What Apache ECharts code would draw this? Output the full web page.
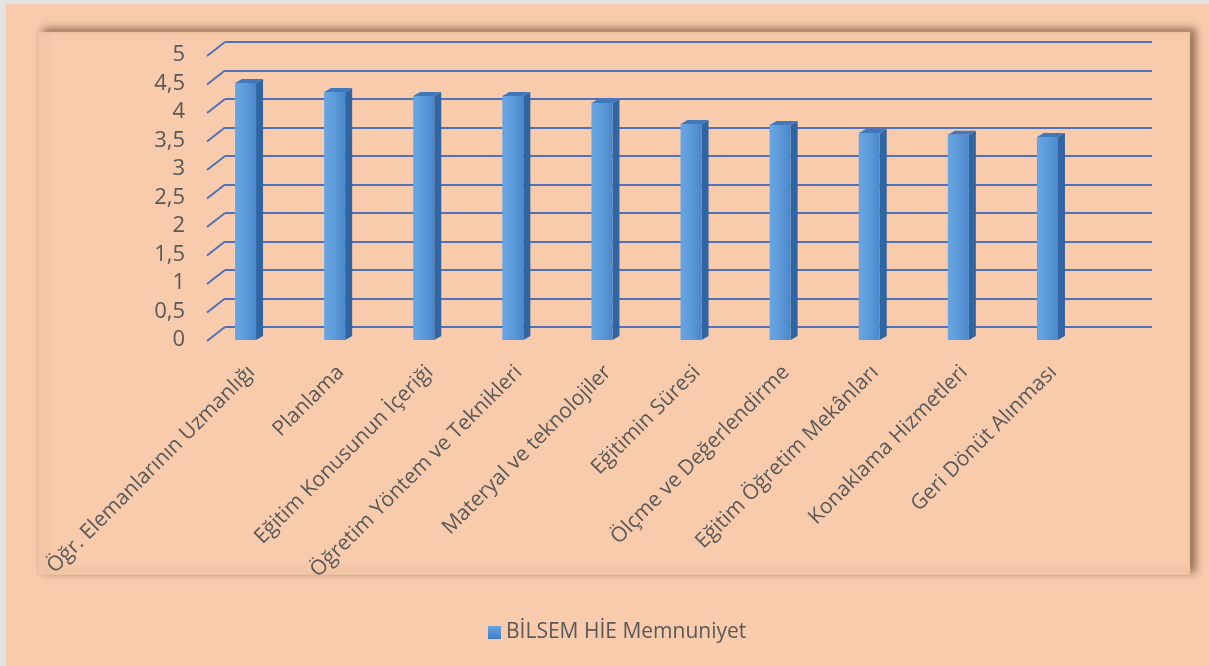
<!DOCTYPE html>
<html>
<head>
<meta charset="utf-8">
<script src="https://cdn.jsdelivr.net/npm/echarts@6/dist/echarts.min.js"></script>
<style>
  html, body { margin: 0; padding: 0; background: #f8cbad; }
  #chart { width: 1209px; height: 666px; }
</style>
</head>
<body>
<div id="chart"></div>
<script>
const categories = [
  "Öğr. Elemanlarının Uzmanlığı",
  "Planlama",
  "Eğitim Konusunun İçeriği",
  "Öğretim Yöntem ve Teknikleri",
  "Materyal ve teknolojiler",
  "Eğitimin Süresi",
  "Ölçme ve Değerlendirme",
  "Eğitim Öğretim Mekânları",
  "Konaklama Hizmetleri",
  "Geri Dönüt Alınması"
];
const seriesName = "BİLSEM HİE Memnuniyet";
const values = [4.51, 4.35, 4.28, 4.28, 4.16, 3.79, 3.77, 3.63, 3.6, 3.56];
const yTicks = [0, 0.5, 1, 1.5, 2, 2.5, 3, 3.5, 4, 4.5, 5];

const font = "Open Sans";
const textColor = "#595959";
const gridColor = "#4f72b8";

// 3d-ish column: front face + right side + top
function renderBar(params, api) {
  const top = api.coord([api.value(0), api.value(1)]);
  const base = api.coord([api.value(0), 0]);
  const w = 21, dx = 7, dy = 4;
  const x0 = top[0] - w / 2;
  return {
    type: "group",
    children: [
      {
        type: "polygon",
        shape: { points: [[x0 + w, top[1]], [x0 + w + dx, top[1] - dy], [x0 + w + dx, base[1] - dy], [x0 + w, base[1]]] },
        style: { fill: "#2f65a3" }
      },
      {
        type: "polygon",
        shape: { points: [[x0, top[1]], [x0 + dx, top[1] - dy], [x0 + w + dx, top[1] - dy], [x0 + w, top[1]]] },
        style: { fill: "#3f78bb" }
      },
      {
        type: "rect",
        shape: { x: x0, y: top[1], width: w, height: base[1] - top[1] },
        style: {
          fill: new echarts.graphic.LinearGradient(0, 0, 1, 0, [
            { offset: 0, color: "#6aa5e2" },
            { offset: 0.5, color: "#5c9ada" },
            { offset: 1, color: "#4a87cb" }
          ])
        }
      }
    ]
  };
}

// short slanted lines joining the front labels to the back wall
function renderDiag(params, api) {
  const y = api.coord([0, api.value(1)])[1];
  const x = params.coordSys.x;
  return {
    type: "line",
    shape: { x1: x - 18, y1: y + 14, x2: x, y2: y },
    style: { stroke: gridColor, lineWidth: 2 }
  };
}

const chart = echarts.init(document.getElementById("chart"));
chart.setOption({
  backgroundColor: "#f8cbad",
  animation: false,
  textStyle: { fontFamily: font },
  graphic: [
    { type: "rect", z: -10, shape: { x: 0, y: 0, width: 1209, height: 4 }, style: { fill: "#e3e3e3" } },
    { type: "rect", z: -10, shape: { x: 0, y: 0, width: 6, height: 666 }, style: { fill: "#e3e3e3" } },
    {
      type: "rect", z: -10,
      shape: { x: 38, y: 32, width: 1152, height: 543 },
      style: {
        fill: "#f8cbad", stroke: "rgba(225,180,150,0.6)", lineWidth: 1,
        shadowBlur: 8, shadowColor: "rgba(70,40,20,0.6)", shadowOffsetX: 5, shadowOffsetY: -3
      }
    }
  ],
  legend: {
    data: [seriesName],
    left: 483, top: 617,
    icon: "rect", itemWidth: 13, itemHeight: 13,
    textStyle: { fontSize: 21, color: textColor, fontFamily: font }
  },
  grid: [
    { left: 225, top: 42, width: 927, height: 285 },
    { left: 201, top: 55, width: 891, height: 285 },
    { left: 207, top: 55, width: 891, height: 285 }
  ],
  xAxis: [
    { gridIndex: 0, type: "category", data: categories, show: false },
    { gridIndex: 1, type: "category", data: categories, show: false },
    {
      gridIndex: 2, type: "category", data: categories,
      axisLine: { show: false }, axisTick: { show: false },
      axisLabel: { interval: 0, rotate: 45, margin: 29, fontSize: 21, color: textColor, fontFamily: font }
    }
  ],
  yAxis: [
    {
      gridIndex: 0, type: "value", min: 0, max: 5, interval: 0.5,
      axisLine: { show: false }, axisTick: { show: false }, axisLabel: { show: false },
      splitLine: { lineStyle: { color: gridColor, width: 2 } }
    },
    {
      gridIndex: 1, type: "value", min: 0, max: 5, interval: 0.5,
      axisLine: { show: false }, axisTick: { show: false }, splitLine: { show: false },
      axisLabel: {
        margin: 16, fontSize: 22, color: textColor, fontFamily: font,
        padding: [8, 0, 0, 0],
        formatter: (v) => String(v).replace(".", ",")
      }
    },
    { gridIndex: 2, type: "value", min: 0, max: 5, show: false }
  ],
  series: [
    {
      type: "custom",
      xAxisIndex: 0, yAxisIndex: 0,
      silent: true,
      renderItem: renderDiag,
      data: yTicks.map((t) => [0, t])
    },
    {
      name: seriesName,
      type: "custom",
      xAxisIndex: 1, yAxisIndex: 1,
      itemStyle: {
        color: new echarts.graphic.LinearGradient(0, 0, 0, 1, [
          { offset: 0, color: "#6aa5e2" },
          { offset: 1, color: "#3f7cc4" }
        ])
      },
      renderItem: renderBar,
      data: values.map((v, i) => [i, v])
    }
  ]
});
</script>
</body>
</html>
